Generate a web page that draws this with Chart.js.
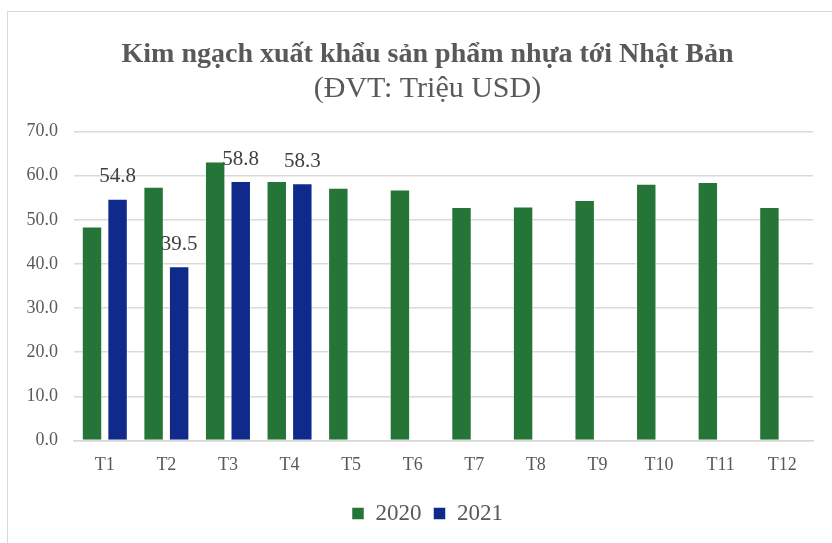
<!DOCTYPE html>
<html>
<head>
<meta charset="utf-8">
<script src="https://cdn.jsdelivr.net/npm/chart.js@4/dist/chart.umd.min.js"></script>
<style>
  html, body { margin: 0; padding: 0; background: #fff; overflow: hidden; }
  #wrap { position: relative; width: 832px; height: 543px; }
  #frame { position: absolute; left: 7px; top: 11px; width: 840px; height: 560px; border: 1px solid #d9d9d9; pointer-events: none; }
</style>
</head>
<body>
<div id="wrap">
  <canvas id="chartExport" width="832" height="543"></canvas>
  <div id="frame"></div>
</div>
<script>
// ===== Dữ liệu =====
const months = ['T1', 'T2', 'T3', 'T4', 'T5', 'T6', 'T7', 'T8', 'T9', 'T10', 'T11', 'T12'];
const values2020 = [48.5, 57.5, 63.2, 58.8, 57.3, 56.9, 52.9, 53.0, 54.5, 58.2, 58.6, 52.9];
const values2021 = [54.8, 39.5, 58.8, 58.3, null, null, null, null, null, null, null, null];
const yTicks = [0, 10, 20, 30, 40, 50, 60, 70];

const serif = "'Liberation Serif', 'Times New Roman', serif";

// Nhãn giá trị trên cột 2021
const barLabels = {
    id: 'barLabels',
    afterDatasetsDraw(chart) {
        const ctx = chart.ctx;
        const meta = chart.getDatasetMeta(1);
        ctx.save();
        ctx.font = '21px ' + serif;
        ctx.fillStyle = '#404040';
        ctx.textAlign = 'center';
        ctx.textBaseline = 'middle';
        meta.data.forEach((bar, i) => {
            const v = values2021[i];
            if (v === null) return;
            ctx.fillText(v.toFixed(1), bar.x, bar.y - 22);
        });
        ctx.restore();
    }
};

// Khung của Excel rộng hơn ảnh, nên tiêu đề và chú giải lệch sang phải một chút
const shiftBoxes = {
    id: 'shiftBoxes',
    afterLayout(chart) {
        chart.boxes.forEach(b => {
            if (b.isHorizontal && !(b instanceof Chart.Scale) && b.options && b.options.display) {
                b.left += 17;
                b.right += 17;
            }
        });
    }
};

const ctx = document.getElementById('chartExport').getContext('2d');
new Chart(ctx, {
    type: 'bar',
    data: {
        labels: months,
        datasets: [
            {
                label: '2020',
                data: values2020,
                backgroundColor: '#267538',
                borderColor: 'rgba(255,255,255,0.5)',
                borderWidth: 1,
                categoryPercentage: 0.83,
                barPercentage: 0.8
            },
            {
                label: '2021',
                data: values2021,
                backgroundColor: '#102a8b',
                borderColor: 'rgba(255,255,255,0.5)',
                borderWidth: 1,
                categoryPercentage: 0.83,
                barPercentage: 0.8
            }
        ]
    },
    options: {
        responsive: false,
        animation: false,
        layout: { padding: { left: 8, right: 19, top: 38, bottom: 8 } },
        plugins: {
            title: {
                display: true,
                text: 'Kim ngạch xuất khẩu sản phẩm nhựa tới Nhật Bản',
                color: '#595959',
                font: { family: serif, size: 28, weight: 'bold' },
                padding: { top: 0, bottom: 0 }
            },
            subtitle: {
                display: true,
                text: '(ĐVT: Triệu USD)',
                color: '#595959',
                font: { family: serif, size: 30 },
                padding: { top: 0, bottom: 24 }
            },
            legend: {
                position: 'bottom',
                labels: {
                    color: '#595959',
                    font: { family: serif, size: 23 },
                    boxWidth: 12,
                    boxHeight: 12,
                    padding: 12
                }
            },
            tooltip: { enabled: false }
        },
        scales: {
            x: {
                grid: { display: false, drawTicks: false },
                border: { color: '#d9d9d9', width: 1.5 },
                ticks: { color: '#595959', font: { family: serif, size: 18 }, padding: 14 }
            },
            y: {
                min: 0,
                max: 70,
                afterFit(scale) { scale.width = 66; },
                afterBuildTicks(scale) { scale.ticks = yTicks.map(v => ({ value: v })); },
                grid: { color: '#d9d9d9', lineWidth: 1.5, drawTicks: false },
                border: { display: false },
                ticks: {
                    color: '#595959',
                    font: { family: serif, size: 18 },
                    padding: 16,
                    callback: v => v.toFixed(1)
                }
            }
        }
    },
    plugins: [barLabels, shiftBoxes]
});
</script>
</body>
</html>
